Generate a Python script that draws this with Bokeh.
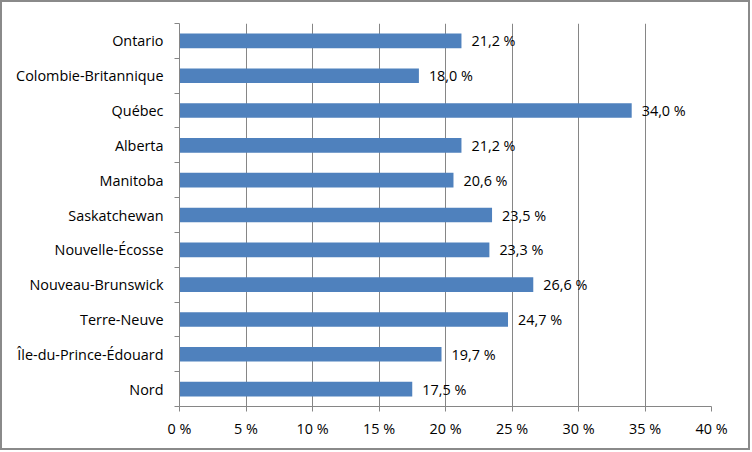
from bokeh.plotting import figure
from bokeh.models import ColumnDataSource, FixedTicker, LabelSet, Range1d
from bokeh.core.properties import value
from bokeh.embed import file_html
from bokeh.resources import INLINE

provinces = ["Ontario", "Colombie-Britannique", "Québec", "Alberta", "Manitoba",
             "Saskatchewan", "Nouvelle-Écosse", "Nouveau-Brunswick", "Terre-Neuve",
             "Île-du-Prince-Édouard", "Nord"]
values = [21.2, 18.0, 34.0, 21.2, 20.6, 23.5, 23.3, 26.6, 24.7, 19.7, 17.5]
x_ticks = [0, 5, 10, 15, 20, 25, 30, 35, 40]
x_tick_labels = ["0 %", "5 %", "10 %", "15 %", "20 %", "25 %", "30 %", "35 %", "40 %"]

n = len(provinces)
ypos = [n - 1 - i for i in range(n)]
labels = [("%.1f" % v).replace(".", ",") + " %" for v in values]
source = ColumnDataSource(dict(y=ypos, v=values, lab=labels, name=provinces))

FONT = "Open Sans"
FS = "14.4px"
GRAY = "#868686"

p = figure(frame_width=532, frame_height=383,
           min_border_left=177, min_border_right=37,
           min_border_top=21, min_border_bottom=42,
           x_range=Range1d(0, 40), y_range=Range1d(-0.5, n - 0.5),
           output_backend="svg", toolbar_location=None)
p.styles = {"border": "2px solid #8a8a8a", "box-sizing": "border-box"}
p.outline_line_color = None
p.background_fill_color = "white"
p.border_fill_color = "white"

p.hbar(y="y", right="v", left=0, height=0.42, source=source,
       fill_color="#4F81BD", line_color=None)

p.add_layout(LabelSet(x="v", y="y", text="lab", source=source,
                      x_offset=10, text_baseline="middle", text_align="left",
                      text_font=value(FONT), text_font_size=value(FS),
                      text_color="#000000"))

# x axis
xa = p.xaxis[0]
xa.ticker = FixedTicker(ticks=x_ticks)
xa.major_label_overrides = {t: l for t, l in zip(x_ticks, x_tick_labels)}
xa.major_tick_out = 5
xa.major_tick_in = 0
xa.minor_tick_out = 0
xa.minor_tick_in = 0
xa.axis_line_color = GRAY
xa.major_tick_line_color = GRAY
xa.major_label_text_font = FONT
xa.major_label_text_font_size = FS
xa.major_label_text_color = "#000000"
xa.major_label_standoff = 7

# y axis
ya = p.yaxis[0]
ya.ticker = FixedTicker(ticks=ypos, minor_ticks=[i - 0.5 for i in range(n + 1)])
ya.major_label_overrides = {y: name for y, name in zip(ypos, provinces)}
ya.major_tick_out = 0
ya.major_tick_in = 0
ya.minor_tick_out = 5
ya.minor_tick_in = 0
ya.minor_tick_line_color = GRAY
ya.axis_line_color = GRAY
ya.major_label_text_font = FONT
ya.major_label_text_font_size = FS
ya.major_label_text_color = "#000000"
ya.major_label_standoff = 11

p.xgrid.grid_line_color = GRAY
p.xgrid.ticker = FixedTicker(ticks=x_ticks)
p.ygrid.grid_line_color = None

open("out.html", "w").write(file_html(p, INLINE))
